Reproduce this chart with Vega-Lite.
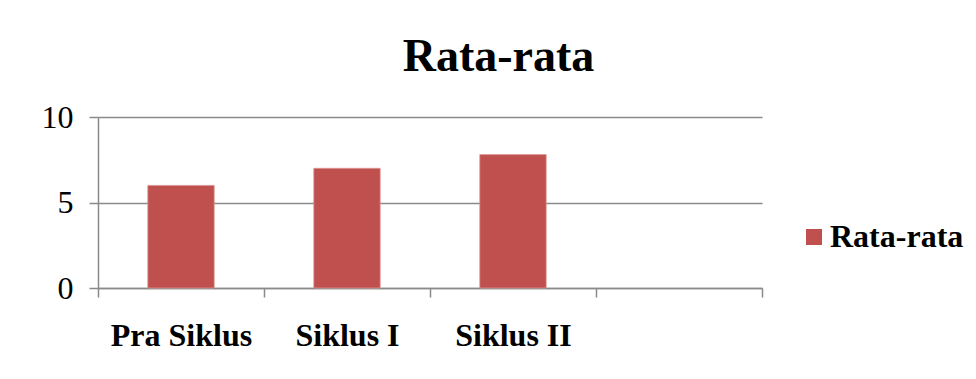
{
  "$schema": "https://vega.github.io/schema/vega-lite/v6.json",
  "width": 664,
  "height": 171,
  "autosize": {"type": "pad"},
  "padding": {"left": 41, "top": 34, "right": 5, "bottom": 5},
  "background": "white",
  "title": {
    "text": "Rata-rata",
    "font": "Liberation Serif",
    "fontSize": 46,
    "fontWeight": "bold",
    "color": "black",
    "anchor": "middle",
    "frame": "bounds",
    "offset": 20,
    "dx": -4
  },
  "data": {
    "values": [
      {"kategori": "Pra Siklus", "nilai": 6.0, "seri": "Rata-rata"},
      {"kategori": "Siklus I", "nilai": 7.0, "seri": "Rata-rata"},
      {"kategori": "Siklus II", "nilai": 7.8, "seri": "Rata-rata"}
    ]
  },
  "mark": {"type": "bar", "width": {"band": 0.4}, "stroke": "#D99694", "strokeWidth": 0.8},
  "encoding": {
    "x": {
      "field": "kategori",
      "type": "nominal",
      "sort": null,
      "scale": {"domain": ["Pra Siklus", "Siklus I", "Siklus II", " "], "paddingInner": 0, "paddingOuter": 0},
      "axis": {
        "title": null,
        "labelAngle": 0,
        "labelFont": "Liberation Serif",
        "labelFontSize": 32,
        "labelFontWeight": "bold",
        "labelColor": "black",
        "labelPadding": 23,
        "labelLimit": 0,
        "tickBand": "extent",
        "tickSize": 9,
        "tickColor": "#8a8a8a",
        "tickWidth": 1.5,
        "domainColor": "#8a8a8a",
        "domainWidth": 1.5,
        "grid": false
      }
    },
    "y": {
      "field": "nilai",
      "type": "quantitative",
      "scale": {"domain": [0, 10], "nice": false},
      "axis": {
        "title": null,
        "values": [0, 5, 10],
        "labelFont": "Liberation Serif",
        "labelFontSize": 32,
        "labelColor": "black",
        "labelPadding": 16,
        "tickSize": 9,
        "tickColor": "#8a8a8a",
        "tickWidth": 1.5,
        "domainColor": "#8a8a8a",
        "domainWidth": 1.5,
        "grid": true,
        "gridColor": "#8a8a8a",
        "gridWidth": 1.5
      }
    },
    "color": {
      "field": "seri",
      "type": "nominal",
      "scale": {"range": ["#C0504D"]},
      "legend": {
        "title": null,
        "orient": "none",
        "legendX": 700,
        "legendY": 104,
        "symbolType": "square",
        "symbolSize": 256,
        "symbolStrokeWidth": 0,
        "labelFont": "Liberation Serif",
        "labelFontSize": 32,
        "labelFontWeight": "bold",
        "labelColor": "black",
        "labelOffset": 0,
        "labelLimit": 0,
        "padding": 0
      }
    }
  },
  "config": {"view": {"stroke": null}}
}
